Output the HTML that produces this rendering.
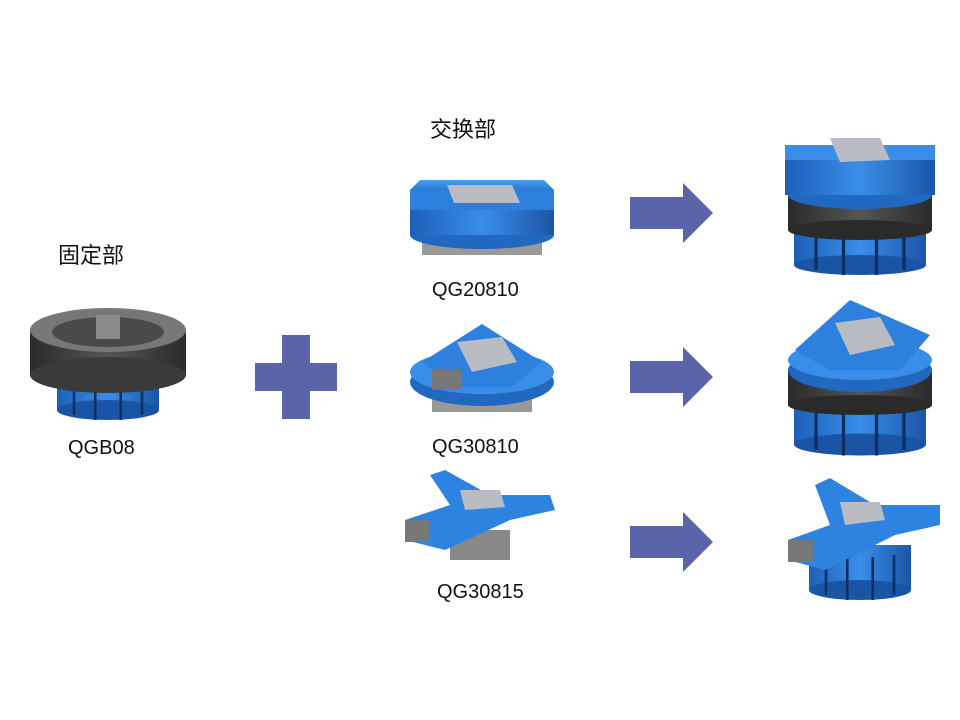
<!DOCTYPE html>
<html><head><meta charset="utf-8"><style>
body{margin:0;background:#fff;width:960px;height:720px;overflow:hidden;position:relative;font-family:"Liberation Sans","Noto Sans CJK SC",sans-serif}
.t{position:absolute;font-size:20px;color:#111;white-space:nowrap}
svg{position:absolute;left:0;top:0}
</style></head><body>
<svg width="960" height="720" viewBox="0 0 960 720">
<defs>
<linearGradient id="bl" x1="0" x2="1"><stop offset="0" stop-color="#1d5fb8"/><stop offset=".5" stop-color="#3a8ee8"/><stop offset="1" stop-color="#1b55a8"/></linearGradient>
<linearGradient id="dk" x1="0" x2="1"><stop offset="0" stop-color="#2a2a2a"/><stop offset=".5" stop-color="#555"/><stop offset="1" stop-color="#2a2a2a"/></linearGradient>
<linearGradient id="top" x1="0" y1="0" x2="0" y2="1"><stop offset="0" stop-color="#4aa0f0"/><stop offset="1" stop-color="#2a78d0"/></linearGradient>
<g id="base"><rect x="-60" y="0" width="120" height="45" fill="url(#bl)"/><ellipse cx="0" cy="45" rx="60" ry="10" fill="#1a55a5"/><g stroke="#0c2e60" stroke-width="3"><line x1="-40" y1="10" x2="-40" y2="50"/><line x1="-15" y1="12" x2="-15" y2="55"/><line x1="15" y1="12" x2="15" y2="55"/><line x1="40" y1="10" x2="40" y2="50"/></g></g>
</defs>
<!-- plus -->
<rect x="255" y="363" width="82" height="28" fill="#5a64a8"/><rect x="282" y="335" width="28" height="84" fill="#5a64a8"/>
<!-- arrows -->
<g fill="#5a64a8">
<polygon points="630,197 683,197 683,183 713,213 683,243 683,229 630,229"/>
<polygon points="630,361 683,361 683,347 713,377 683,407 683,393 630,393"/>
<polygon points="630,526 683,526 683,512 713,542 683,572 683,558 630,558"/>
</g>
<!-- QGB08 -->
<g transform="translate(108,360)">
<use href="#base" transform="translate(0,5) scale(0.85,1)"/>
<rect x="-78" y="-30" width="156" height="45" fill="url(#dk)"/>
<ellipse cx="0" cy="15" rx="78" ry="18" fill="#3a3a3a"/>
<ellipse cx="0" cy="-30" rx="78" ry="22" fill="#777"/>
<ellipse cx="0" cy="-28" rx="56" ry="15" fill="#4a4a4a"/>
<rect x="-12" y="-45" width="24" height="24" fill="#8a8a8a"/>
</g>
<!-- QG20810 -->
<g transform="translate(482,215)">
<rect x="-60" y="20" width="120" height="20" fill="#999"/>
<ellipse cx="0" cy="20" rx="72" ry="14" fill="#2068c0"/>
<rect x="-72" y="-5" width="144" height="25" fill="url(#bl)"/>
<polygon points="-72,-25 72,-25 72,-5 -72,-5" fill="#2c7fdc"/>
<polygon points="-72,-25 72,-25 62,-35 -62,-35" fill="url(#top)"/>
<polygon points="-35,-30 30,-30 38,-12 -28,-12" fill="#b9bcc2"/>
</g>
<!-- QG30810 -->
<g transform="translate(482,372)">
<rect x="-50" y="20" width="100" height="20" fill="#999"/>
<ellipse cx="0" cy="10" rx="72" ry="24" fill="#2068c0"/>
<ellipse cx="0" cy="0" rx="72" ry="22" fill="#3a8ee8"/>
<polygon points="-60,-10 0,-48 60,-10 30,15 -30,15" fill="#2d80de"/>
<polygon points="-25,-30 20,-35 35,-10 -10,0" fill="#b9bcc2"/>
<rect x="-50" y="-2" width="30" height="20" fill="#777"/>
</g>
<!-- QG30815 -->
<g transform="translate(480,515)">
<rect x="-30" y="15" width="60" height="30" fill="#888"/>
<polygon points="-75,5 -30,-10 -50,-40 -35,-45 10,-20 70,-20 75,-5 30,5 -35,35 -75,25" fill="#2f83e0"/>
<polygon points="-20,-25 20,-25 25,-8 -15,-5" fill="#b9bcc2"/>
<rect x="-75" y="5" width="25" height="22" fill="#777"/>
</g>
<!-- right 1 -->
<g transform="translate(860,200)">
<use href="#base" transform="translate(0,20) scale(1.1,1)"/>
<rect x="-72" y="-5" width="144" height="35" fill="url(#dk)"/>
<ellipse cx="0" cy="30" rx="72" ry="10" fill="#2a2a2a"/>
<ellipse cx="0" cy="-5" rx="72" ry="14" fill="#2068c0"/>
<rect x="-75" y="-40" width="150" height="35" fill="url(#bl)"/>
<polygon points="-75,-55 75,-55 75,-40 -75,-40" fill="#3a8ee8"/>
<polygon points="-30,-62 20,-62 30,-40 -20,-38" fill="#b9bcc2"/>
</g>
<!-- right 2 -->
<g transform="translate(860,375)">
<use href="#base" transform="translate(0,20) scale(1.1,1.1)"/>
<rect x="-72" y="-5" width="144" height="35" fill="url(#dk)"/>
<ellipse cx="0" cy="30" rx="72" ry="10" fill="#2a2a2a"/>
<ellipse cx="0" cy="-5" rx="72" ry="22" fill="#2068c0"/>
<ellipse cx="0" cy="-15" rx="72" ry="20" fill="#3a8ee8"/>
<polygon points="-65,-25 -10,-75 70,-40 40,-5 -30,-5" fill="#2d80de"/>
<polygon points="-25,-52 20,-58 35,-30 -10,-20" fill="#b9bcc2"/>
</g>
<!-- right 3 -->
<g transform="translate(860,540)">
<use href="#base" transform="translate(0,5) scale(0.85,1)"/>
<polygon points="-72,0 -30,-15 -45,-55 -30,-62 15,-35 80,-35 80,-15 35,-5 -35,30 -72,20" fill="#2f83e0"/>
<polygon points="-20,-38 20,-38 25,-20 -15,-15" fill="#b9bcc2"/>
<rect x="-72" y="0" width="25" height="22" fill="#777"/>
</g>
</svg>
<div class="t" style="left:58px;top:238px;font-size:22px">固定部</div>
<div class="t" style="left:68px;top:437px">QGB08</div>
<div class="t" style="left:430px;top:112px;font-size:22px">交换部</div>
<div class="t" style="left:432px;top:279px">QG20810</div>
<div class="t" style="left:432px;top:436px">QG30810</div>
<div class="t" style="left:437px;top:581px">QG30815</div>
</body></html>
